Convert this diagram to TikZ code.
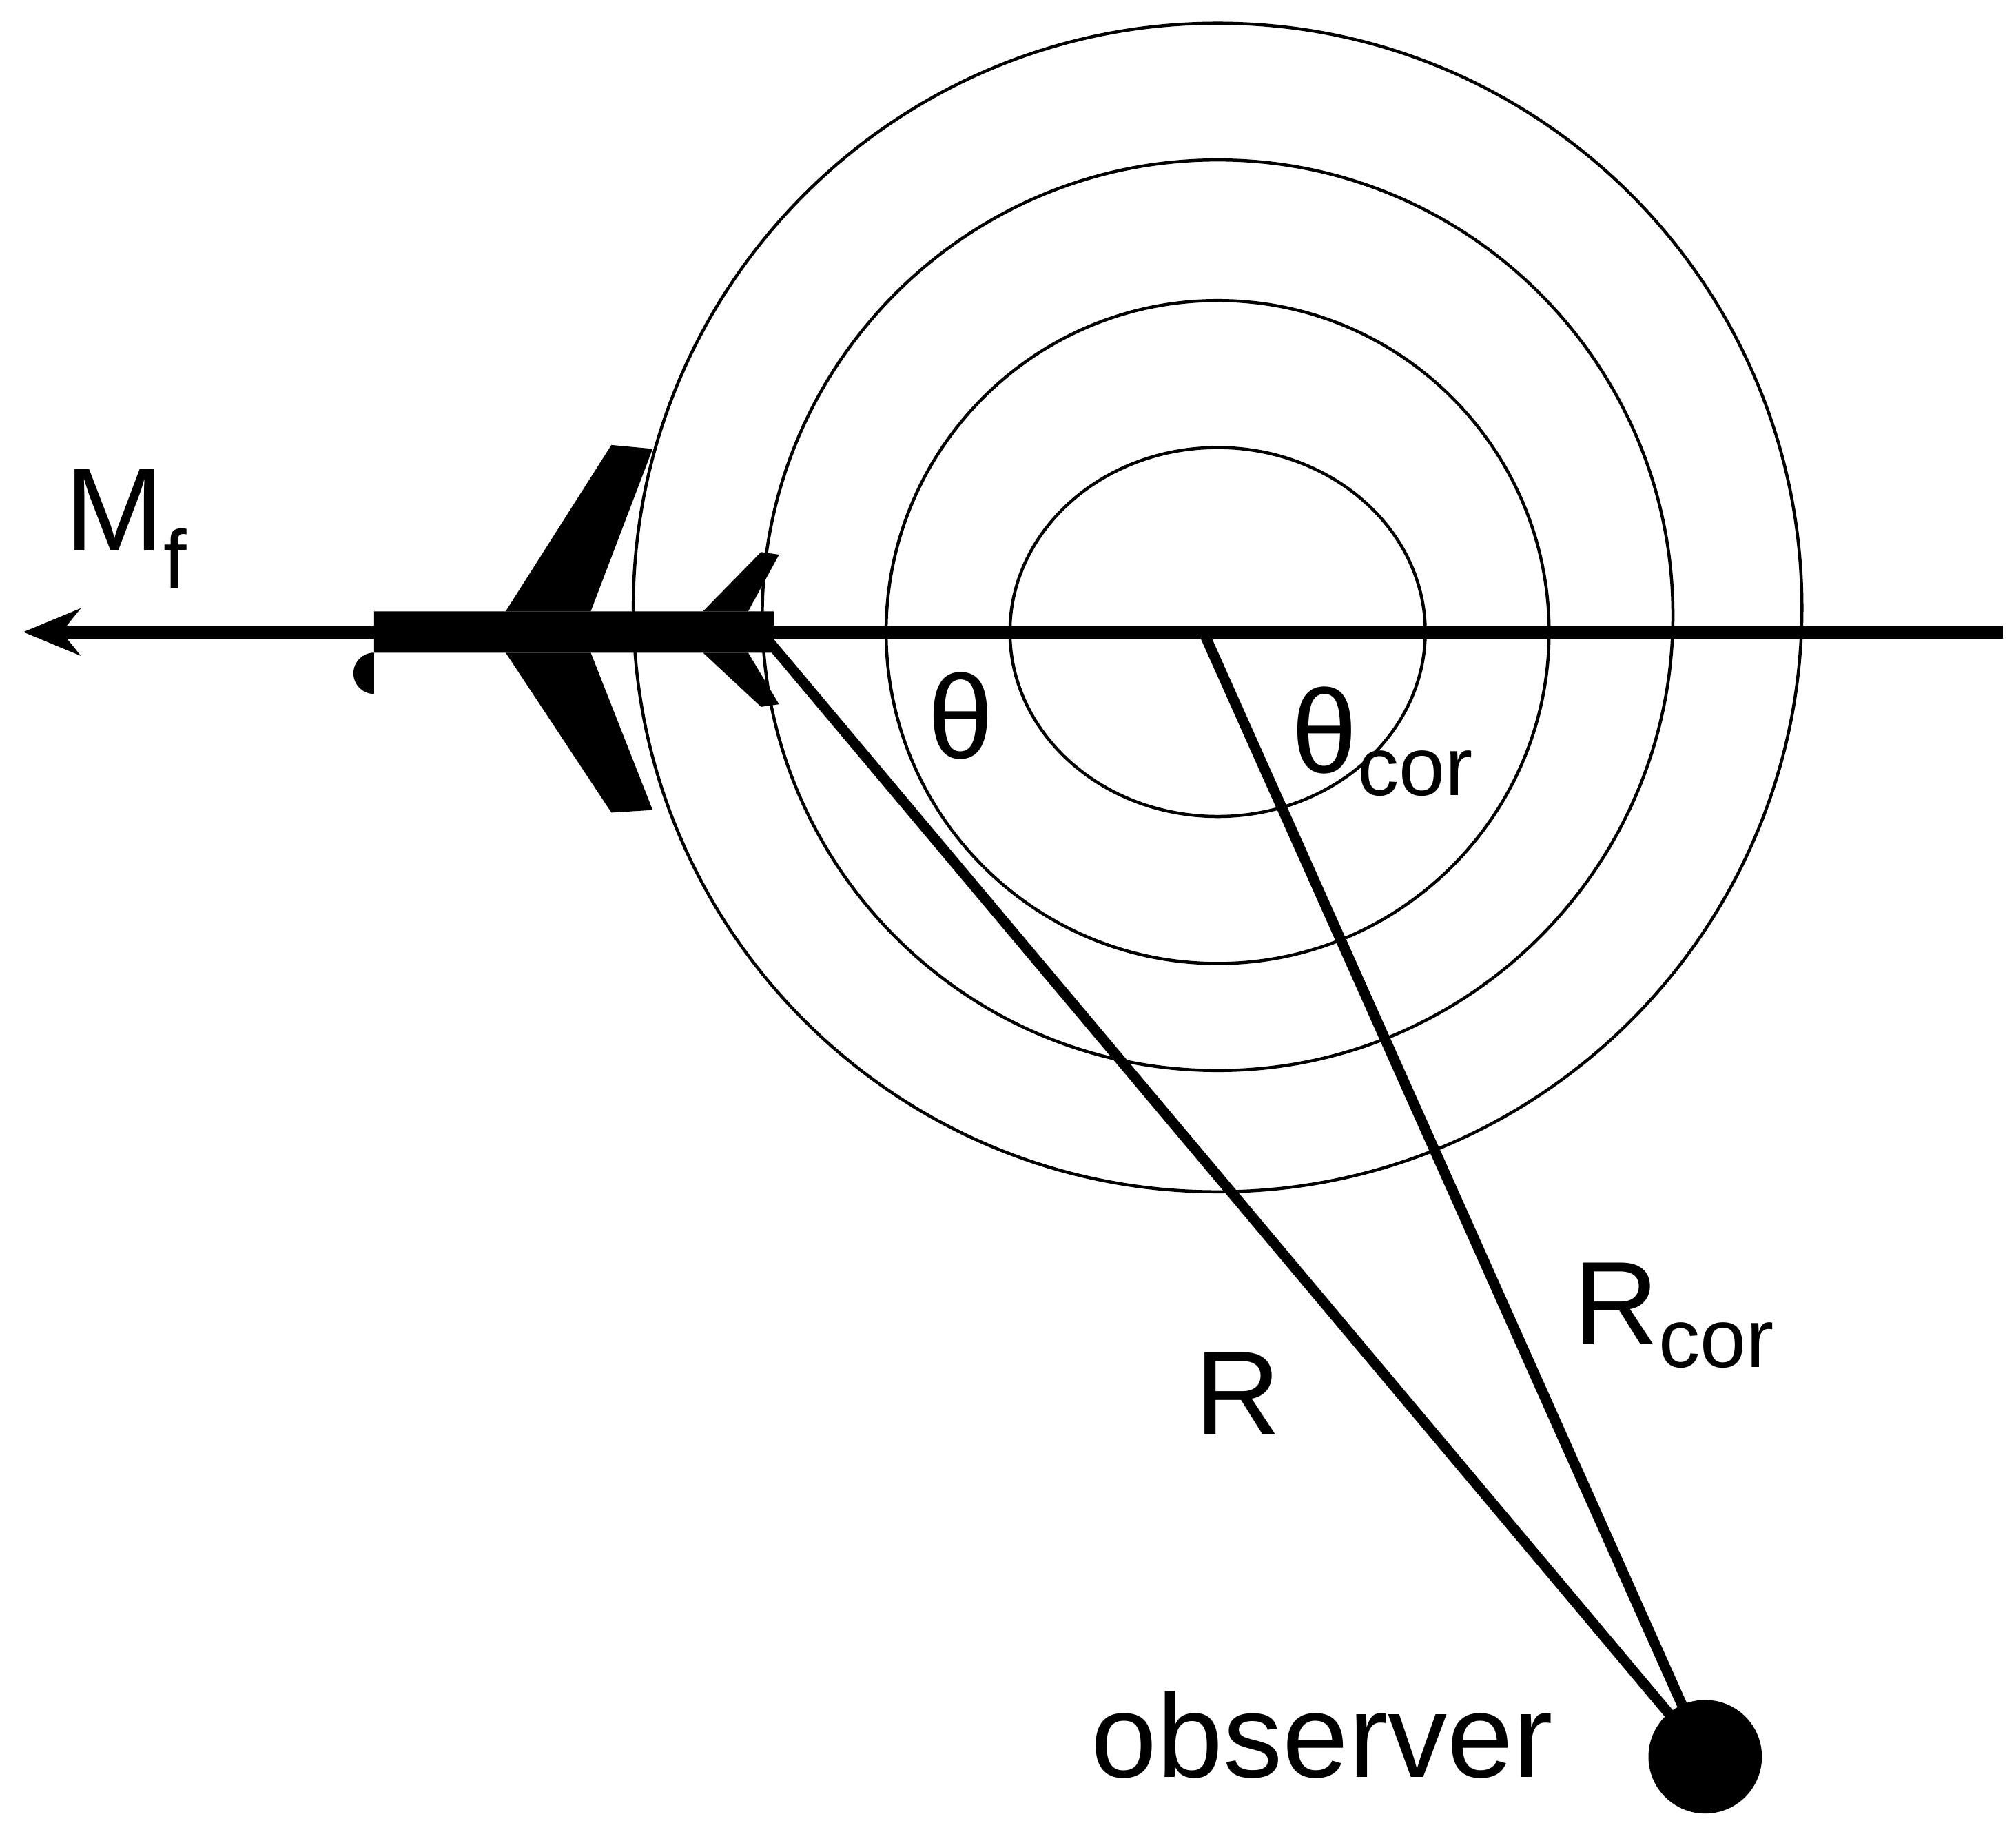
\documentclass[tikz,border=0pt]{standalone}
\usepackage{fontspec}
\setmainfont{Liberation Sans}
\usetikzlibrary{arrows.meta}
\begin{document}
\begin{tikzpicture}[x=0.5pt,y=-0.5pt,
  wave/.style={line width=1.2pt},
  ray/.style={line width=4pt},
  lbl/.style={font=\fontsize{46}{50}\selectfont, inner sep=0pt}]
\useasboundingbox (0,0) rectangle (1563,1420);
% circles
\draw[wave] (944,471) circle [radius=453];
\draw[wave] (944,477) circle [radius=353];
\draw[wave] (944,490) circle [radius=257];
\draw[wave] (944,490) ellipse [x radius=161, y radius=143];
% axis
\coordinate (tip) at (18,490);
\coordinate (end) at (1553,490);
\draw[line width=5pt,-{Stealth[length=22pt,width=18pt]}] (end) -- (tip);
% airplane
\fill (290,474) -- (600,474) -- (600,506) -- (290,506) arc (270:90:16) -- cycle;
\fill (392,474) -- (474,345) -- (506,348) -- (458,474) -- cycle;
\fill (392,506) -- (474,630) -- (506,628) -- (458,506) -- cycle;
\fill (545,474) -- (590,428) -- (604,430) -- (580,474) -- cycle;
\fill (545,506) -- (590,548) -- (604,546) -- (580,506) -- cycle;
% observer and rays
\node[circle, fill, minimum size=88pt*0.5, inner sep=0pt] (obs) at (1322,1362) {};
\coordinate (src) at (590,490);
\coordinate (cor) at (933,490);
\draw[ray] (src) -- (obs.center);
\draw[ray] (cor) -- (obs.center);
% labels
\node[lbl] (mf) at (98,410) {M\textsubscript{f}};
\node[lbl] (th) at (745,555) {θ};
\node[lbl] (thc) at (1072,575) {θ\textsubscript{cor}};
\node[lbl] (r) at (960,1080) {R};
\node[lbl] (rc) at (1298,1020) {R\textsubscript{cor}};
\node[lbl] (ob) at (1025,1345) {observer};
\end{tikzpicture}
\end{document}
